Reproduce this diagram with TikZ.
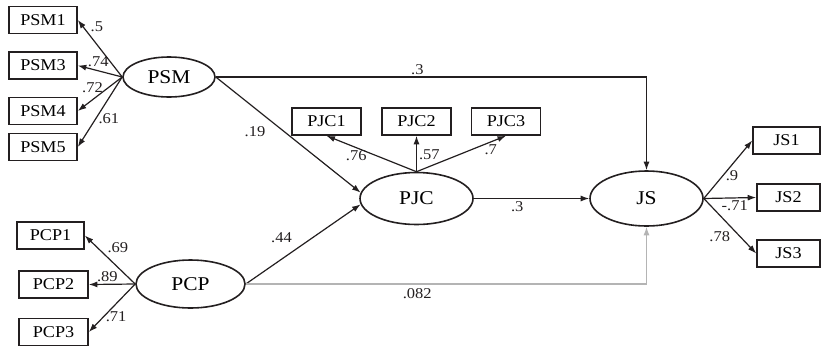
\documentclass[tikz,border=0pt]{standalone}
\usepackage{fontspec}
\setmainfont[FakeStretch=1.1]{Liberation Serif}
\usepackage{tikz}
\usetikzlibrary{shapes.geometric,arrows.meta}
\definecolor{semink}{HTML}{231F20}
\definecolor{semgray}{HTML}{B4B4B4}

\begin{document}
\begin{tikzpicture}[
    x=1pt, y=-1pt,
    latent/.style={draw=semink, ellipse, line width=1.6pt, inner sep=0pt, font=\fontsize{19.5}{19.5}\selectfont},
    item/.style={draw=semink, rectangle, line width=1.6pt, minimum width=68pt, minimum height=27pt, inner sep=0pt, font=\fontsize{16.5}{16.5}\selectfont},
    arrow/.style={-{Latex[length=8.5pt,width=6pt]}, line width=1.2pt, semink},
    coef/.style={font=\fontsize{15}{15}\selectfont, inner sep=2pt, text=semink}
]
    \useasboundingbox (0,0) rectangle (821,346);

    % latent variables
    \node[latent, minimum width=92pt, minimum height=40pt] (psm) at (169,77) {PSM};
    \node[latent, minimum width=109pt, minimum height=48pt] (pcp) at (190.5,284) {PCP};
    \node[latent, minimum width=113pt, minimum height=52pt] (pjc) at (416.5,198.5) {PJC};
    \node[latent, minimum width=113pt, minimum height=55pt] (js) at (646.5,198.5) {JS};

    % indicators
    \node[item] (psm1) at (43,20) {PSM1};
    \node[item] (psm3) at (43,65.5) {PSM3};
    \node[item] (psm4) at (43,111) {PSM4};
    \node[item] (psm5) at (43,147) {PSM5};
    \node[item, minimum width=67pt] (pcp1) at (50.5,235.5) {PCP1};
    \node[item, minimum width=69pt] (pcp2) at (53.5,284.5) {PCP2};
    \node[item, minimum width=69pt] (pcp3) at (53.5,332) {PCP3};
    \node[item, minimum width=69pt] (pjc1) at (326.5,121.5) {PJC1};
    \node[item, minimum width=69pt] (pjc2) at (416.5,121.5) {PJC2};
    \node[item, minimum width=69pt] (pjc3) at (506,121.5) {PJC3};
    \node[item, minimum width=67pt] (js1) at (786.5,140.5) {JS1};
    \node[item, minimum width=63pt] (js2) at (788.5,197.5) {JS2};
    \node[item, minimum width=63pt] (js3) at (788.5,253.5) {JS3};

    % loadings
    \draw[arrow] (psm.west) -- node[coef, pos=0.88, right=5pt] {.5} (psm1.east);
    \draw[arrow] (psm.west) -- node[coef, pos=0.54, above=1pt] {.74} (psm3.east);
    \draw[arrow] (psm.west) -- node[coef, pos=0.67, above=4pt] {.72} (psm4.east);
    \draw[arrow] (psm.west) -- node[coef, pos=0.59, right] {.61} (psm5.east);
    \draw[arrow] (pcp.west) -- node[coef, pos=0.6, above right] {.69} (pcp1.east);
    \draw[arrow] (pcp.west) -- node[coef, pos=0.6, above] {.89} (pcp2.east);
    \draw[arrow] (pcp.west) -- node[coef, pos=0.69, right] {.71} (pcp3.east);
    \draw[arrow] (pjc.north) -- node[coef, pos=0.67, below] {.76} (pjc1.south);
    \draw[arrow] (pjc.north) -- node[coef, pos=0.47, right] {.57} (pjc2.south);
    \draw[arrow] (pjc.north) -- node[coef, pos=0.83, below] {.7} (pjc3.south);
    \draw[arrow] (js.east) -- node[coef, pos=0.4, right] {.9} (js1.west);
    \draw[arrow] (js.east) -- node[coef, pos=0.59, below] {-.71} (js2.west);
    \draw[arrow] (js.east) -- node[coef, pos=0.55, below left] {.78} (js3.west);

    % structural paths
    \draw[arrow] (psm.east) -| node[coef, pos=0.234, above] {.3} (js.north);
    \draw[arrow] (psm.east) -- node[coef, pos=0.47, left=16pt] {.19} (pjc.174);
    \draw[arrow] (pcp.east) -- node[coef, pos=0.45, above left=3pt] {.44} (pjc.186);
    \draw[arrow] (pjc.east) -- node[coef, pos=0.376, below] {.3} (js.west);
    \draw[arrow, semgray] (pcp.east) -| node[coef, pos=0.214, below=2pt] {.082} (js.south);
\end{tikzpicture}
\end{document}
